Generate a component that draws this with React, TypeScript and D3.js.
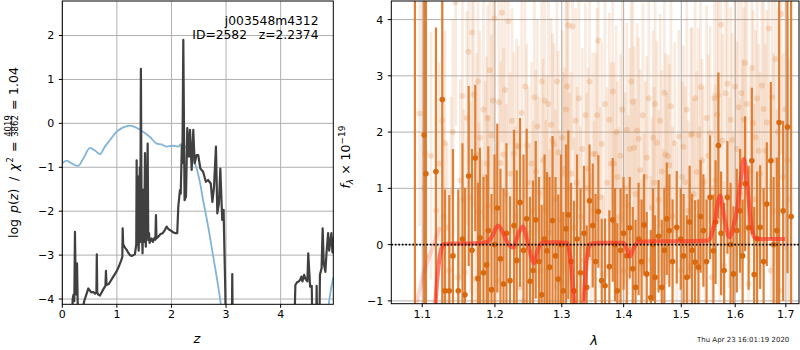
import React from 'react';
import * as d3 from 'd3';

// ---- left panel: redshift probability ----
const pzRedshift = [0.15,0.19,0.205,0.22,0.232,0.245,0.26,0.27,0.285,0.30,
  0.34,0.37,0.40,0.44,0.476,0.50,0.53,0.57,0.60,0.625,
  0.632,0.64,0.66,0.69,0.72,0.75,0.79,0.80,0.81,0.85,
  0.88,0.92,0.96,1.00,1.045,1.08,1.10,1.106,1.115,1.148,
  1.18,1.21,1.24,1.27,1.30,1.33,1.345,1.355,1.362,1.370,
  1.378,1.385,1.40,1.42,1.428,1.44,1.452,1.47,1.49,1.50,
  1.515,1.53,1.545,1.564,1.575,1.59,1.60,1.637,1.66,1.69,
  1.705,1.716,1.725,1.76,1.80,1.84,1.87,1.912,1.94,1.97,
  2.00,2.03,2.07,2.106,2.125,2.155,2.17,2.19,2.20,2.217,
  2.24,2.266,2.29,2.32,2.34,2.37,2.40,2.425,2.46,2.49,
  2.53,2.58,2.63,2.67,2.72,2.75,2.78,2.815,2.84,2.87,
  2.895,2.93,2.955,2.986,3.01,3.10,3.108,3.114,3.12,3.13,
  4.25,4.262,4.27,4.30,4.33,4.354,4.38,4.40,4.43,4.46,
  4.49,4.506,4.52,4.54,4.57,4.60,4.64,4.66,4.68,4.70,
  4.72,4.75,4.77,4.79,4.82,4.84,4.87,4.89,4.93,4.95,4.97];
const pzLogP = [-6,-4.0,-3.9,-4.05,-2.47,-3.7,-3.9,-3.19,-4.3,-6,
  -6,-4.3,-4.05,-3.9,-3.76,-3.8,-3.85,-3.84,-3.88,-3.85,
  -2.98,-3.85,-3.9,-3.92,-3.85,-3.78,-3.7,-3.36,-3.68,-3.66,
  -3.6,-3.52,-3.44,-3.36,-3.23,-3.12,-3.04,-2.39,-2.75,-2.83,
  -2.88,-2.95,-3.0,-3.02,-3.0,-2.98,-2.85,-2.75,-0.84,-2.3,
  -1.2,-2.6,-2.9,-1.0,-2.7,1.24,-2.0,-2.96,-1.5,-2.7,
  -0.68,-2.81,-2.0,-0.46,-2.66,-2.5,-2.72,-2.62,-2.7,-2.6,
  -2.65,-2.09,-2.62,-2.58,-2.52,-2.5,-2.45,-2.35,-2.4,-2.43,
  -2.45,-2.48,-2.5,-2.5,-1.9,-1.52,-1.6,-0.5,-0.9,1.90,
  -1.75,-1.67,-0.11,-0.76,-0.15,-1.06,-0.15,-0.91,-0.72,-0.72,
  -1.03,-1.1,-1.33,-1.29,-1.37,-1.79,-1.44,-0.53,-2.05,-1.82,
  -1.03,-2.2,-1.97,-3.8,-6,-6,-4.3,-3.43,-4.3,-6,
  -6,-4.1,-3.68,-3.62,-3.6,-3.57,-3.49,-3.6,-3.45,-3.55,
  -3.6,-2.96,-3.27,-3.72,-3.7,-6,-6,-3.7,-6,-6,
  -3.45,-3.3,-2.39,-3.19,-3.38,-2.96,-2.5,-2.9,-2.5,-2.94,-2.6];

const priorRedshift = [0,0.08,0.17,0.29,0.385,0.507,0.6,0.69,0.78,0.874,0.996,1.117,1.24,1.36,1.48,1.606,1.73,1.82,1.91,2.03,2.125,2.187,2.28,2.4,2.52,2.58,2.674,2.766,2.857,2.907,3.0,4.8,4.87,4.9,4.965];
const priorLogP = [-0.91,-0.85,-0.91,-0.97,-0.8,-0.56,-0.62,-0.7,-0.53,-0.38,-0.19,-0.09,-0.05,-0.10,-0.19,-0.31,-0.46,-0.48,-0.53,-0.51,-0.53,-0.46,-0.57,-0.8,-1.33,-1.75,-2.36,-3.04,-3.72,-4.15,-5.5,-5.5,-4.25,-3.95,-3.5];

const zTicks = [0, 1, 2, 3, 4];
const logpTicks = [-4, -3, -2, -1, 0, 1, 2];

// ---- right panel: spectrum ----
// all beams (faint)
const allWave = [1.0965,1.1026,1.1038,1.1049,1.1116,1.1182,1.1225,1.1267,1.1285,1.1303,
  1.1333,1.1362,1.1387,1.1412,1.1449,1.1485,1.1514,1.1543,1.1560,1.1577,
  1.1603,1.1629,1.1652,1.1675,1.1698,1.1721,1.1740,1.1759,1.1773,1.1787,
  1.1812,1.1837,1.1860,1.1882,1.1894,1.1905,1.1928,1.1951,1.1973,1.1994,
  1.2014,1.2034,1.2057,1.2080,1.2102,1.2124,1.2146,1.2167,1.2193,1.2219,
  1.2248,1.2277,1.2297,1.2317,1.2342,1.2366,1.2392,1.2418,1.2442,1.2465,
  1.2490,1.2515,1.2538,1.2560,1.2581,1.2601,1.2626,1.2650,1.2671,1.2691,
  1.2713,1.2734,1.2753,1.2772,1.2792,1.2811,1.2834,1.2857,1.2880,1.2903,
  1.2925,1.2946,1.2967,1.2988,1.3006,1.3024,1.3045,1.3066,1.3084,1.3102,
  1.3124,1.3145,1.3169,1.3192,1.3216,1.3240,1.3268,1.3295,1.3323,1.3351,
  1.3373,1.3394,1.3417,1.3439,1.3465,1.3491,1.3514,1.3536,1.3559,1.3582,
  1.3610,1.3637,1.3664,1.3691,1.3727,1.3762,1.3790,1.3818,1.3837,1.3856,
  1.3875,1.3894,1.3921,1.3948,1.3973,1.3998,1.4025,1.4052,1.4077,1.4102,
  1.4128,1.4153,1.4177,1.4201,1.4227,1.4252,1.4278,1.4303,1.4325,1.4346,
  1.4369,1.4392,1.4427,1.4462,1.4482,1.4501,1.4519,1.4536,1.4567,1.4597,
  1.4625,1.4653,1.4676,1.4699,1.4720,1.4741,1.4764,1.4787,1.4816,1.4844,
  1.4882,1.4919,1.4955,1.4991,1.5016,1.5041,1.5070,1.5099,1.5125,1.5150,
  1.5173,1.5195,1.5223,1.5250,1.5280,1.5310,1.5331,1.5351,1.5377,1.5402,
  1.5432,1.5461,1.5494,1.5526,1.5557,1.5588,1.5609,1.5629,1.5655,1.5681,
  1.5707,1.5732,1.5761,1.5789,1.5820,1.5851,1.5882,1.5912,1.5939,1.5966,
  1.5999,1.6031,1.6063,1.6094,1.6119,1.6143,1.6167,1.6191,1.6225,1.6259,
  1.6291,1.6322,1.6345,1.6367,1.6396,1.6425,1.6455,1.6485,1.6520,1.6554,
  1.6586,1.6617,1.6657,1.6697,1.6725,1.6753,1.6786,1.6818,1.6841,1.6864,
  1.6905,1.6945,1.6989,1.7033,1.7071];
const allFlux = [2.33,1.0,1.63,-0.2,1.58,0.6,1.44,2.2,0.5,1.8,
  0.3,-0.46,0.93,2.0,4.31,-0.58,1.14,2.64,0.81,-0.49,
  2.25,3.43,0.84,3.77,2.67,-0.61,1.6,2.9,0.57,1.9,
  0.01,2.4,1.2,1.44,2.25,0.7,3.1,1.94,2.56,4.02,
  0.3,-0.64,2.53,1.45,4.12,1.6,2.75,0.9,3.97,1.26,
  2.2,1.62,0.5,1.76,1.73,-0.76,2.34,-1.0,2.81,1.76,
  1.1,0.2,1.44,0.6,2.62,1.3,2.1,0.93,-0.46,2.9,
  1.5,2.56,0.62,1.2,2.5,0.2,2.13,1.85,1.78,0.8,
  2.9,1.64,0.44,-0.67,1.9,1.26,1.35,2.4,2.81,3.9,
  1.0,1.26,3.88,0.3,2.2,1.1,2.6,0.5,1.7,-0.28,
  2.3,1.0,1.35,2.9,-0.23,1.61,0.6,1.61,2.3,3.63,
  0.84,1.79,-0.52,2.5,1.1,2.22,1.44,2.72,1.44,0.4,
  2.0,1.2,0.49,1.58,2.4,-0.46,1.0,2.04,0.7,1.7,
  2.9,2.54,1.72,0.9,2.03,1.88,1.32,-0.34,2.3,0.37,
  1.2,1.55,2.6,-0.28,0.66,1.9,1.1,2.5,1.81,0.8,
  2.2,1.3,0.2,2.7,1.6,1.0,1.57,1.41,2.46,0.5,
  1.8,0.25,1.92,-0.46,1.2,1.74,1.11,2.4,0.6,-0.4,
  1.95,1.97,0.9,2.6,1.29,1.95,0.5,2.8,1.5,1.11,
  -0.31,2.25,1.58,1.98,-0.58,1.0,2.6,1.14,2.31,2.65,
  0.43,3.91,1.85,-0.37,2.69,2.86,0.93,2.22,1.86,0.4,
  2.81,1.7,2.44,0.9,2.69,1.5,2.22,3.23,2.5,-0.7,
  1.3,3.14,2.16,0.8,1.91,2.6,1.67,1.26,2.83,2.41,
  1.67,2.17,3.84,-0.46,2.62,1.5,3.3,0.6,2.0,-0.82,
  4.1,1.2,2.4,1.5,0.8];
const allErr = [2.0,2.5,2.4,1.8,2.2,2.0,1.8,2.3,1.6,2.0,
  1.5,1.3,1.7,2.0,2.2,1.4,1.8,1.9,1.6,1.5,
  1.9,2.0,1.7,2.1,2.0,1.4,1.8,2.0,1.6,1.9,
  1.5,2.0,1.7,1.9,2.0,1.6,2.1,1.8,2.0,2.2,
  1.5,1.4,2.0,1.8,2.3,1.9,2.0,1.6,2.2,1.8,
  2.0,1.8,1.6,1.9,1.8,1.4,2.0,1.4,2.0,1.8,
  1.7,1.6,1.8,1.6,2.0,1.8,1.9,1.7,1.4,2.1,
  1.8,2.0,1.6,1.8,2.0,1.5,1.9,1.9,1.8,1.6,
  2.1,1.8,1.6,1.4,1.9,1.8,1.8,2.0,2.0,2.2,
  1.7,1.8,2.2,1.6,2.0,1.7,2.0,1.6,1.8,1.5,
  2.0,1.7,1.8,2.0,1.5,1.8,1.6,1.8,1.9,2.2,
  1.6,1.8,1.4,2.0,1.7,1.9,1.8,2.0,1.8,1.6,
  1.9,1.7,1.6,1.8,2.0,1.4,1.7,1.9,1.6,1.8,
  2.0,2.0,1.8,1.7,1.9,1.8,1.8,1.5,2.0,1.6,
  1.7,1.8,2.0,1.5,1.6,1.9,1.7,2.0,1.8,1.6,
  1.9,1.8,1.5,2.0,1.8,1.7,1.8,1.8,2.0,1.6,
  1.8,1.5,1.9,1.5,1.7,1.8,1.7,2.0,1.6,1.5,
  1.9,1.9,1.7,2.0,1.8,1.9,1.6,2.0,1.8,1.7,
  1.5,2.0,1.8,1.9,1.5,1.7,2.0,1.7,2.0,2.0,
  1.6,2.2,1.9,1.5,2.0,2.1,1.7,2.0,1.9,1.6,
  2.1,1.9,2.0,1.7,2.1,1.8,2.0,2.2,2.0,1.5,
  1.8,2.2,2.0,1.7,1.9,2.1,1.9,1.8,2.1,2.0,
  1.9,2.0,2.3,1.6,2.1,1.9,2.3,1.8,2.2,1.8,
  2.5,2.2,2.5,2.5,2.5];

// combined spectrum (dark)
const specWave = [1.0904,1.1026,1.1049,1.1182,1.1267,1.1303,1.1362,1.1412,1.1485,1.1543,
  1.1577,1.1629,1.1675,1.1721,1.1759,1.1787,1.1837,1.1882,1.1905,1.1951,
  1.1994,1.2034,1.2080,1.2124,1.2167,1.2219,1.2277,1.2317,1.2366,1.2418,
  1.2465,1.2515,1.2560,1.2601,1.2650,1.2691,1.2734,1.2772,1.2811,1.2857,
  1.2903,1.2946,1.2988,1.3024,1.3066,1.3102,1.3145,1.3192,1.3240,1.3295,
  1.3351,1.3394,1.3439,1.3491,1.3536,1.3582,1.3637,1.3691,1.3762,1.3818,
  1.3856,1.3894,1.3948,1.3998,1.4052,1.4102,1.4153,1.4201,1.4252,1.4303,
  1.4346,1.4392,1.4462,1.4501,1.4536,1.4597,1.4653,1.4699,1.4741,1.4787,
  1.4844,1.4919,1.4991,1.5041,1.5099,1.5150,1.5195,1.5250,1.5310,1.5351,
  1.5402,1.5461,1.5526,1.5588,1.5629,1.5681,1.5732,1.5789,1.5851,1.5912,
  1.5966,1.6031,1.6094,1.6143,1.6191,1.6259,1.6322,1.6367,1.6425,1.6485,
  1.6554,1.6617,1.6697,1.6753,1.6818,1.6864,1.6945,1.7033,1.7108];
const specFlux = [-1.4,1.95,1.26,1.30,2.58,-0.82,-0.82,-0.2,-0.82,0.1,
  -0.89,1.22,-0.1,1.54,-0.6,0.12,-0.5,-0.36,0.25,-0.8,
  0.0,0.65,-0.25,-0.7,0.2,-0.64,0.34,-0.28,0.75,-0.1,
  0.46,-0.65,-0.46,0.44,-0.3,-0.89,0.1,-0.11,-0.4,0.43,
  -0.2,-0.61,0.0,-0.82,0.28,0.53,-0.3,-0.82,0.1,-0.5,
  0.2,-0.76,0.78,0.34,-0.3,0.59,-0.64,-0.73,-0.39,0.44,
  0.0,-0.82,-0.1,0.2,-0.2,0.3,-0.43,-0.76,0.1,-0.3,
  0.35,-0.52,-0.94,0.0,-0.58,0.15,-0.76,-0.1,0.46,0.25,
  -0.3,0.31,0.1,-0.2,-0.58,0.4,-0.1,-0.31,-0.4,0.5,
  0.25,-0.3,0.84,-0.11,0.4,1.76,0.2,-0.46,0.84,0.0,
  -0.52,0.25,0.6,-0.2,1.08,0.3,1.49,-0.53,0.1,0.31,
  -0.3,0.72,1.49,0.0,0.25,2.17,0.6,2.09,0.5];
const specErr = [7,6,6,2.56,6,
  1.8,1.7,1.9,1.8,1.7,1.9,1.6,1.8,1.3,1.7,
  1.6,1.7,1.6,1.5,1.7,1.6,1.5,1.6,1.7,1.6,
  1.5,1.7,1.6,1.5,1.7,1.6,1.5,1.6,1.4,1.5,
  1.6,1.5,1.4,1.6,1.5,1.4,1.5,1.6,1.4,1.5,
  1.5,1.4,1.6,1.5,1.5,
  1.2,1.1,1.0,1.1,1.2,1.0,1.1,1.2,1.0,1.1,
  1.0,1.2,1.1,1.0,1.1,0.9,1.1,1.2,1.0,1.1,
  0.9,1.1,1.2,1.0,1.1,1.0,1.2,1.1,1.0,1.0,
  1.1,1.0,0.9,1.1,1.1,1.0,1.0,1.1,1.2,1.0,
  1.0,1.1,1.1,1.0,1.1,1.3,1.1,1.2,1.0,1.1,
  1.2,1.1,1.1,1.0,1.2,1.1,1.3,1.2,1.2,1.1,
  1.3,1.1,1.4,1.2,1.3,
  6,1.6,2.6,7];

// best-fit model
const modelWave = [1.115,1.120,1.125,1.129,1.140,1.160,1.180,1.190,1.196,1.2045,
  1.212,1.220,1.2267,1.233,1.2406,1.247,1.253,1.2575,1.263,1.270,
  1.280,1.295,1.308,1.315,1.321,1.327,1.333,1.339,1.3448,1.360,
  1.380,1.3994,1.406,1.4107,1.416,1.425,1.450,1.500,1.5494,1.560,
  1.5713,1.580,1.589,1.596,1.603,1.610,1.617,1.625,1.632,1.6367,
  1.650,1.680,1.6986];
const modelFlux = [-1.6,-0.6,-0.1,0.01,0.02,0.02,0.03,0.05,0.15,0.34,
  0.2,0.0,-0.05,0.15,0.32,0.1,-0.2,-0.33,-0.1,0.03,
  0.04,0.04,0.03,-0.4,-1.2,-1.6,-1.2,-0.3,0.01,0.03,
  0.03,0.03,-0.1,-0.21,-0.08,0.05,0.06,0.06,0.07,0.35,
  0.87,0.45,0.13,0.3,0.6,1.1,1.52,0.9,0.3,0.13,
  0.1,0.1,0.1];
// model outside the fitted range (faint)
const edgeWave = [1.0926,1.1013,1.1168,1.1235];
const edgeFlux = [-1.05,-0.52,0.07,0.31];

const waveTicks = [1.1, 1.2, 1.3, 1.4, 1.5, 1.6, 1.7];
const fluxTicks = [-1, 0, 1, 2, 3, 4];

const FONT = '"DejaVu Sans", sans-serif';
const GRID = '#b0b0b0';
const ORANGE = '#dc7a2c';
const fmtMinus = (v: number) => (v < 0 ? '\u2212' + Math.abs(v) : String(v));

export default function App() {
  // axes boxes
  const L = { x0: 62.3, x1: 333.3, y0: 1, y1: 304.3 };
  const R = { x0: 391.3, x1: 799, y0: 1, y1: 303.7 };

  const zx = d3.scaleLinear().domain([0, 4.965]).range([L.x0, L.x1]);
  const zy = d3.scaleLinear().domain([-4.12, 2.786]).range([L.y1, L.y0]);
  const wx = d3.scaleLog().domain([1.06, 1.727]).range([R.x0, R.x1]);
  const fy = d3.scaleLinear().domain([-1.05, 4.33]).range([R.y1, R.y0]);

  const pzPath = d3.line<number>()
    .x((_, i) => zx(pzRedshift[i]))
    .y(d => zy(d))(pzLogP) || '';
  const priorPath = d3.line<number>()
    .x((_, i) => zx(priorRedshift[i]))
    .y(d => zy(d))
    .curve(d3.curveMonotoneX)(priorLogP) || '';
  const modelPath = d3.line<number>()
    .x((_, i) => wx(modelWave[i]))
    .y(d => fy(d))
    .curve(d3.curveMonotoneX)(modelFlux) || '';
  const edgePath = d3.line<number>()
    .x((_, i) => wx(edgeWave[i]))
    .y(d => fy(d))(edgeFlux) || '';

  return (
    <svg width={800} height={350} style={{ position: 'absolute', left: 0, top: 0, background: '#fff' }}
      fontFamily={FONT}>
      <defs>
        <clipPath id="clipL"><rect x={L.x0} y={L.y0} width={L.x1 - L.x0} height={L.y1 - L.y0} /></clipPath>
        <clipPath id="clipR"><rect x={R.x0} y={R.y0} width={R.x1 - R.x0} height={R.y1 - R.y0} /></clipPath>
      </defs>

      {/* ---------- left panel ---------- */}
      <g>
        {zTicks.map(t => (
          <line key={'gzx' + t} x1={zx(t)} x2={zx(t)} y1={L.y0} y2={L.y1} stroke={GRID} strokeWidth={1} />
        ))}
        {logpTicks.map(t => (
          <line key={'gzy' + t} x1={L.x0} x2={L.x1} y1={zy(t)} y2={zy(t)} stroke={GRID} strokeWidth={1} />
        ))}
        <g clipPath="url(#clipL)">
          <path d={priorPath} fill="none" stroke="#82b4d9" strokeWidth={1.8} />
          <path d={pzPath} fill="none" stroke="#404040" strokeWidth={2.2} strokeLinejoin="round" />
        </g>
        <rect x={L.x0} y={L.y0} width={L.x1 - L.x0} height={L.y1 - L.y0} fill="none" stroke="#000" strokeWidth={1} />
        {zTicks.map(t => (
          <g key={'tzx' + t}>
            <line x1={zx(t)} x2={zx(t)} y1={L.y1} y2={L.y1 + 3.5} stroke="#000" />
            <text x={zx(t)} y={317.5} fontSize={11} textAnchor="middle">{t}</text>
          </g>
        ))}
        {logpTicks.map(t => (
          <g key={'tzy' + t}>
            <line x1={L.x0 - 3.5} x2={L.x0} y1={zy(t)} y2={zy(t)} stroke="#000" />
            <text x={L.x0 - 8} y={zy(t)} dy="0.36em" fontSize={11} textAnchor="end">{fmtMinus(t)}</text>
          </g>
        ))}
        <text x={318.5} y={24.5} fontSize={12.3} textAnchor="end">j003548m4312</text>
        <text x={318.5} y={38.5} fontSize={12.3} textAnchor="end" style={{ whiteSpace: 'pre' }}>{'ID=2582   z=2.2374'}</text>
        <text x={197} y={343} fontSize={13} fontStyle="italic" textAnchor="middle">z</text>
        <g transform="translate(18,238) rotate(-90)" fontSize={12.5}>
          <text x={0} y={0}>log</text>
          <text x={25} y={0}><tspan fontStyle="italic">p</tspan>(<tspan fontStyle="italic">z</tspan>)</text>
          <text x={57} y={0}>/</text>
          <text x={67} y={0} fontStyle="italic">χ</text>
          <text x={75.5} y={-5.5} fontSize={8.5}>2</text>
          <text x={86} y={0}>=</text>
          <text x={112} y={-7.5} fontSize={8.5} textAnchor="middle">4019</text>
          <line x1={101.5} x2={122.5} y1={-6.3} y2={-6.3} stroke="#000" strokeWidth={0.7} />
          <text x={112} y={0} fontSize={8.5} textAnchor="middle">3862</text>
          <text x={128} y={0}>=</text>
          <text x={143} y={0}>1.04</text>
        </g>
      </g>

      {/* ---------- right panel ---------- */}
      <g>
        {waveTicks.map(t => (
          <line key={'gwx' + t} x1={wx(t)} x2={wx(t)} y1={R.y0} y2={R.y1} stroke={GRID} strokeWidth={1} />
        ))}
        {fluxTicks.map(t => (
          <line key={'gfy' + t} x1={R.x0} x2={R.x1} y1={fy(t)} y2={fy(t)} stroke={GRID} strokeWidth={1} />
        ))}
        <g clipPath="url(#clipR)">
          {allWave.map((w, i) => (
            <line key={'lb' + i} x1={wx(w)} x2={wx(w)} y1={fy(allFlux[i] - allErr[i])} y2={fy(allFlux[i] + allErr[i])}
              stroke={ORANGE} strokeOpacity={0.15} strokeWidth={2.8} />
          ))}
          {allWave.map((w, i) => (
            <circle key={'ld' + i} cx={wx(w)} cy={fy(allFlux[i])} r={3} fill={ORANGE} fillOpacity={0.22} />
          ))}
          {specWave.map((w, i) => (
            <line key={'db' + i} x1={wx(w)} x2={wx(w)} y1={fy(specFlux[i] - specErr[i])} y2={fy(specFlux[i] + specErr[i])}
              stroke={ORANGE} strokeOpacity={0.95} strokeWidth={2.2} />
          ))}
          {specWave.map((w, i) => (
            <circle key={'dd' + i} cx={wx(w)} cy={fy(specFlux[i])} r={2.8} fill="#d8690f" />
          ))}
          <path d={edgePath} fill="none" stroke="#ff2d1e" strokeOpacity={0.2} strokeWidth={4} />
          <path d={modelPath} fill="none" stroke="#ff2d1e" strokeOpacity={0.62} strokeWidth={4.2} strokeLinejoin="round" />
          <line x1={R.x0} x2={R.x1} y1={fy(0)} y2={fy(0)} stroke="#000" strokeWidth={1.7} strokeDasharray="1.7,1.8" />
        </g>
        <rect x={R.x0} y={R.y0} width={R.x1 - R.x0} height={R.y1 - R.y0} fill="none" stroke="#000" strokeWidth={1} />
        {waveTicks.map(t => (
          <g key={'twx' + t}>
            <line x1={wx(t)} x2={wx(t)} y1={R.y1} y2={R.y1 + 3.5} stroke="#000" />
            <text x={wx(t)} y={317.5} fontSize={11} textAnchor="middle">{t.toFixed(1)}</text>
          </g>
        ))}
        {fluxTicks.map(t => (
          <g key={'tfy' + t}>
            <line x1={R.x0 - 3.5} x2={R.x0} y1={fy(t)} y2={fy(t)} stroke="#000" />
            <text x={R.x0 - 8} y={fy(t)} dy="0.36em" fontSize={11} textAnchor="end">{fmtMinus(t)}</text>
          </g>
        ))}
        <text x={594} y={345} fontSize={13} fontStyle="italic" textAnchor="middle">λ</text>
        <g transform="translate(350,157) rotate(-90)" fontSize={12.5}>
          <text x={0} y={0} textAnchor="middle" style={{ whiteSpace: 'pre' }}>
            <tspan fontStyle="italic">f</tspan><tspan fontStyle="italic" fontSize={9} dy={3}>λ</tspan>
            <tspan dy={-3}>{' × 10'}</tspan><tspan fontSize={9} dy={-5}>−19</tspan>
          </text>
        </g>
        <text x={697} y={342} fontSize={7} fill="#222">Thu Apr 23 16:01:19 2020</text>
      </g>
    </svg>
  );
}
